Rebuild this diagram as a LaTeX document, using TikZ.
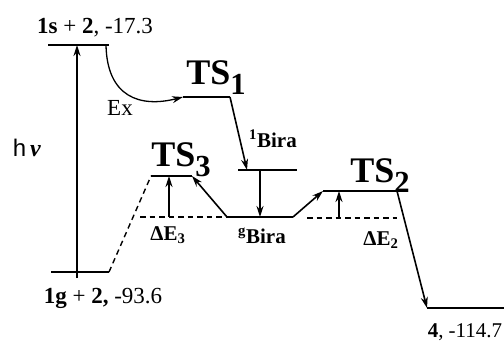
\documentclass[tikz,border=0pt]{standalone}
\usepackage{fontspec}
\setmainfont{Liberation Serif}
\setsansfont{Liberation Sans}
\usetikzlibrary{arrows.meta, positioning}
\newcommand{\lowidx}[1]{\raisebox{-0.28em}{\scalebox{0.85}{#1}}}

\begin{document}
\begin{tikzpicture}[x=1pt, y=-1pt,
  level/.style={line width=2pt},
  arr/.style={line width=1.6pt, -{Stealth[length=11pt, width=7pt]}},
  guide/.style={line width=1.4pt, dash pattern=on 5.5pt off 4pt},
  lab/.style={inner sep=0pt, font=\fontsize{23}{25}\selectfont},
  blab/.style={inner sep=0pt, font=\fontsize{21}{24}\selectfont\bfseries},
  tslab/.style={inner sep=0pt, font=\fontsize{36}{38}\selectfont\bfseries}
]
  \useasboundingbox (0,0) rectangle (504,343);

  % levels
  \coordinate (s-l) at (48,45);   \coordinate (s-r) at (109,45);
  \coordinate (g-l) at (51,272);  \coordinate (g-r) at (109,272);
  \coordinate (t1-l) at (183,97); \coordinate (t1-r) at (230,97);
  \coordinate (b1-l) at (238,170); \coordinate (b1-r) at (297,170);
  \coordinate (bg-l) at (227,217); \coordinate (bg-r) at (293,217);
  \coordinate (t3-l) at (151,176); \coordinate (t3-r) at (192,176);
  \coordinate (t2-l) at (323,191); \coordinate (t2-r) at (397,191);
  \coordinate (p-l) at (427,308);  \coordinate (p-r) at (504,308);
  \foreach \lv in {s, g, t1, b1, bg, t3, t2, p}
    \draw[level] (\lv-l) -- (\lv-r);

  % helper points
  \coordinate (hv-a) at (77,278);  \coordinate (hv-b) at (77,45);
  \coordinate (ex) at (106,45);
  \coordinate (b1-in) at (247,170);
  \coordinate (b1-out) at (260,170); \coordinate (bg-in) at (260,217);
  \coordinate (e3-a) at (169,217); \coordinate (e3-b) at (169,176);
  \coordinate (e2-a) at (339,218); \coordinate (e2-b) at (339,191);
  \coordinate (d3) at (140,217);
  \coordinate (d2-l) at (307,218); \coordinate (d2-r) at (397,218);

  \draw[arr] (hv-a) -- (hv-b);
  \draw[arr, line width=1.3pt] (ex) .. controls (107,97) and (140,108) .. (t1-l);
  \draw[arr] (t1-r) -- (b1-in);
  \draw[arr] (b1-out) -- (bg-in);
  \draw[arr] (bg-l) -- (t3-r);
  \draw[arr] (bg-r) -- (t2-l);
  \draw[arr] (t2-r) -- (p-l);
  \draw[arr] (e3-a) -- (e3-b);
  \draw[arr] (e2-a) -- (e2-b);
  \draw[guide] (g-r) -- (t3-l);
  \draw[guide] (d3) -- (bg-l);
  \draw[guide] (d2-l) -- (d2-r);

  % labels
  \node[lab] (top) at (95,28) {\textbf{1s} + \textbf{2}, -17.3};
  \node[lab] (bot) at (103,298.5) {\textbf{1g} + \textbf{2,} -93.6};
  \node[lab, font=\fontsize{21}{24}\selectfont] (prod) at (465,332) {\textbf{4}, -114.7};
  \node[inner sep=0pt, font=\fontsize{24}{26}\selectfont] (hv) at (27,148) {\textsf{h}\,\textbf{\textit{ν}}};
  \node[lab] (exl) at (120,108) {Ex};
  \node[tslab] (ts1) at (216,78) {TS\lowidx{1}};
  \node[tslab] (ts3) at (181,160) {TS\lowidx{3}};
  \node[tslab] (ts2) at (380,176) {TS\lowidx{2}};
  \node[blab] (bira1) at (273,139) {\textsuperscript{1}Bira};
  \node[blab] (birag) at (262,236) {\textsuperscript{g}Bira};
  \node[blab] (de3) at (168,235) {ΔE\textsubscript{3}};
  \node[blab] (de2) at (381,240) {ΔE\textsubscript{2}};
\end{tikzpicture}
\end{document}
